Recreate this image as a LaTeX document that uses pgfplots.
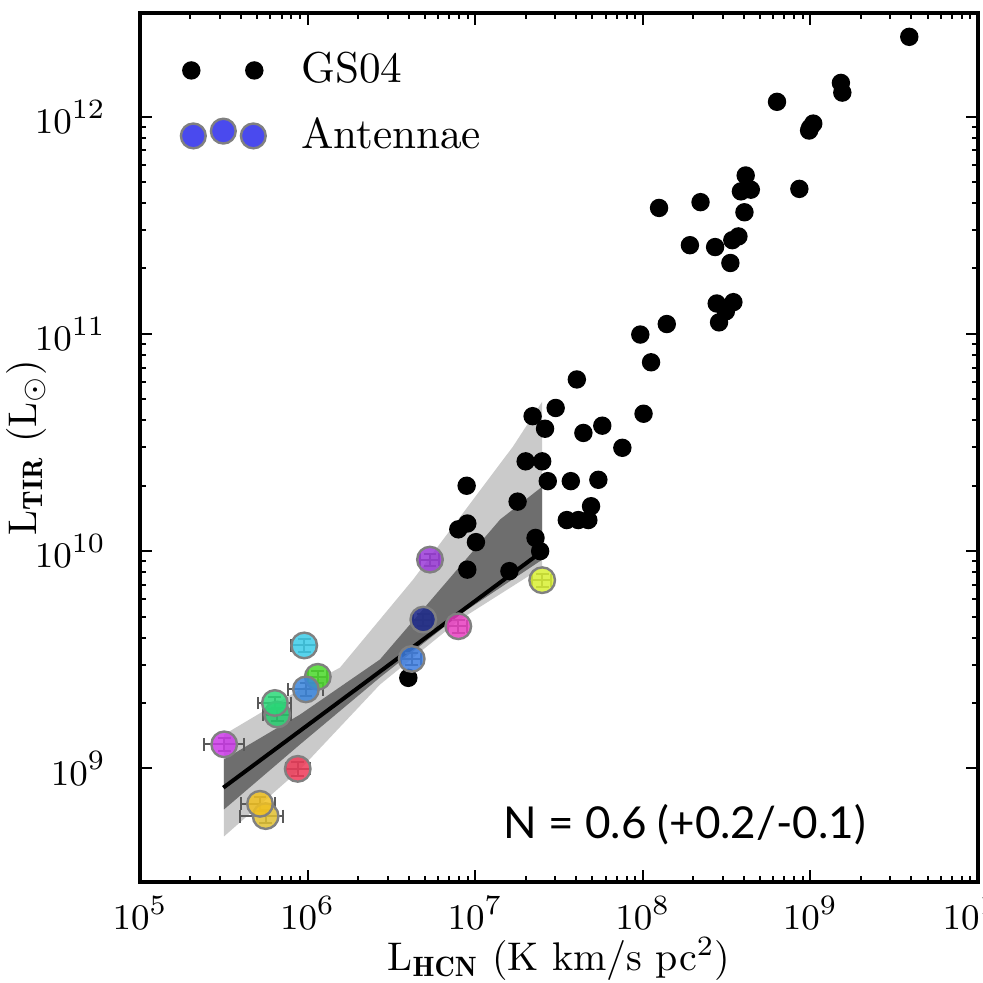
\documentclass[border=0pt]{standalone}
\usepackage{pgfplots}
\pgfplotsset{compat=1.18}
\usepackage{fontspec}
\newfontfamily\nfont{Lato}
\definecolor{cPurple}{HTML}{9A3AD8}
\definecolor{cNavy}{HTML}{1E2A8C}
\definecolor{cMag}{HTML}{E83EC0}
\definecolor{cBlue}{HTML}{3D7DE0}
\definecolor{cYG}{HTML}{D8F032}
\definecolor{cCyan}{HTML}{3CCBE8}
\definecolor{cGreen}{HTML}{4AD82A}
\definecolor{cBlueB}{HTML}{3A85DC}
\definecolor{cGreenB}{HTML}{2AD878}
\definecolor{cGreenC}{HTML}{22C86A}
\definecolor{cMagB}{HTML}{CC3AE8}
\definecolor{cRed}{HTML}{EE3A58}
\definecolor{cYel}{HTML}{F0C020}
\definecolor{cYelB}{HTML}{E0C030}
\definecolor{legblue}{HTML}{4A4AEE}
\definecolor{bandlight}{HTML}{CACACA}
\definecolor{banddark}{HTML}{6E6E6E}
\pgfplotsset{
  ant/.style={forget plot, only marks, mark=*, mark size=3.2pt,
    mark options={fill=#1, draw=gray, line width=0.6pt, fill opacity=0.85},
    error bars/x dir=both, error bars/x explicit, error bars/y dir=both, error bars/y explicit,
    error bars/error bar style={color=black!65, line width=0.5pt},
    error bars/error mark options={rotate=90, mark size=1.6pt, color=black!65, line width=0.5pt}},
}
\begin{document}
\begin{tikzpicture}
\begin{axis}[
  scale only axis, width=209.5pt, height=217.25pt,
  xmode=log, ymode=log,
  xmin=1e5, xmax=1e10, ymin=3e8, ymax=3e12,
  xtick={1e5,1e6,1e7,1e8,1e9,1e10}, ytick={1e9,1e10,1e11,1e12},
  axis line style={line width=0.8pt},
  major tick length=3pt, minor tick length=1.5pt,
  every tick/.style={black, line width=0.5pt},
  tick label style={font=\fontsize{9.5}{11}\selectfont},
  yticklabel style={xshift=-5pt},
  label style={font=\fontsize{9.5}{11}\selectfont},
  xlabel={$\mathrm{L}_{\mathbf{HCN}}$ (K km/s pc$^2$)},
  ylabel={$\mathrm{L}_{\mathbf{TIR}}$ ($\mathrm{L}_{\odot}$)},
  every axis x label/.style={at={([yshift=-19.25pt]rel axis cs:0.5,0)}, anchor=center},
  every axis y label/.style={at={([xshift=-28.5pt]rel axis cs:0,0.5)}, rotate=90, anchor=center},
  legend style={at={(rel axis cs:0.045,0.965)}, anchor=north west, draw=none, fill=none,
    font=\fontsize{10.8}{12}\selectfont, row sep=3.2pt, inner sep=0pt},
  legend cell align=left,
]
\coordinate (ll) at (rel axis cs:0,0);
\coordinate (ur) at (rel axis cs:1,1);
% legend entries
\addlegendimage{legend image code/.code={
  \fill[black] (0pt,0pt) circle[radius=2.1pt];
  \fill[black] (15.75pt,0pt) circle[radius=2.1pt];
  \path (-3pt,0pt) (25.25pt,0pt);}}
\addlegendentry{GS04}
\addlegendimage{legend image code/.code={
  \filldraw[fill=legblue, draw=gray, line width=0.6pt] (0.5pt,0pt) circle[radius=3.1pt];
  \filldraw[fill=legblue, draw=gray, line width=0.6pt] (8pt,1.2pt) circle[radius=3.1pt];
  \filldraw[fill=legblue, draw=gray, line width=0.6pt] (15.5pt,0pt) circle[radius=3.1pt];
  \path (-3pt,0pt) (25.25pt,0pt);}}
\addlegendentry{Antennae}
% bands
\addplot[fill=bandlight, draw=none, forget plot] coordinates {
 (3.17e5,1.43e9) (9.02e5,2.31e9) (1.56e6,2.91e9) (4.26e6,7.40e9) (1.68e7,3.03e10) (2.51e7,4.88e10)
 (2.51e7,8.41e9) (8.11e6,4.84e9) (2.70e6,2.43e9) (9.02e5,9.89e8) (3.17e5,4.86e8)} -- cycle;
\addplot[fill=banddark, draw=none, forget plot] coordinates {
 (3.17e5,1.10e9) (9.02e5,1.77e9) (2.70e6,3.17e9) (1.41e7,1.40e10) (2.51e7,1.98e10)
 (2.51e7,9.14e9) (8.11e6,5.11e9) (2.70e6,2.62e9) (9.02e5,1.29e9) (3.17e5,6.47e8)} -- cycle;
\addplot[black, line width=1pt, forget plot] coordinates {(3.14e5,8.15e8) (2.51e7,9.98e9)};
% GS04
\addplot[only marks, mark=*, mark size=2.1pt, black, forget plot] coordinates {
 (3.89e9,2.33e12) (1.52e9,1.43e12) (1.55e9,1.29e12) (6.32e8,1.17e12)
 (1.04e9,9.29e11) (9.95e8,8.87e11) (9.82e8,8.63e11)
 (4.11e8,5.36e11) (3.85e8,4.53e11) (4.41e8,4.61e11) (8.59e8,4.65e11)
 (1.25e8,3.80e11) (2.21e8,4.04e11) (4.04e8,3.63e11)
 (1.91e8,2.56e11) (2.70e8,2.51e11) (3.42e8,2.70e11) (3.72e8,2.81e11) (3.33e8,2.12e11)
 (2.76e8,1.38e11) (3.47e8,1.40e11) (3.13e8,1.27e11) (2.85e8,1.13e11)
 (1.39e8,1.11e11) (9.66e7,9.93e10) (1.12e8,7.40e10) (4.04e7,6.17e10)
 (1.01e8,4.29e10) (3.02e7,4.56e10) (2.20e7,4.18e10) (2.61e7,3.66e10)
 (5.73e7,3.78e10) (4.42e7,3.50e10) (7.55e7,2.99e10)
 (2.00e7,2.59e10) (2.51e7,2.59e10) (2.71e7,2.10e10) (3.72e7,2.10e10) (5.43e7,2.13e10)
 (8.89e6,2.00e10) (1.79e7,1.69e10) (4.91e7,1.61e10)
 (3.52e7,1.39e10) (4.12e7,1.39e10) (4.73e7,1.39e10)
 (8.97e6,1.34e10) (7.93e6,1.26e10) (1.01e7,1.10e10) (2.29e7,1.15e10) (2.44e7,1.00e10)
 (8.97e6,8.22e9) (1.60e7,8.09e9) (3.99e6,2.61e9)};
% Antennae
\addplot[ant=cPurple] coordinates {(5.37e6,9.14e9) +- (0.7e6,0.6e9)};
\addplot[ant=cNavy] coordinates {(4.90e6,4.84e9) +- (0.64e6,0.32e9)};
\addplot[ant=cMag] coordinates {(7.93e6,4.51e9) +- (1.03e6,0.3e9)};
\addplot[ant=cBlue] coordinates {(4.18e6,3.19e9) +- (0.55e6,0.21e9)};
\addplot[ant=cYG] coordinates {(2.51e7,7.35e9) +- (3.3e6,0.48e9)};
\addplot[ant=cCyan] coordinates {(9.55e5,3.68e9) +- (1.6e5,0.24e9)};
\addplot[ant=cGreen] coordinates {(1.15e6,2.64e9) +- (1.5e5,0.17e9)};
\addplot[ant=cBlueB] coordinates {(9.77e5,2.31e9) += (2.6e5,0.15e9) -= (2.1e5,0.15e9)};
\addplot[ant=cGreenC] coordinates {(6.59e5,1.77e9) += (1.4e5,0.12e9) -= (1.2e5,0.12e9)};
\addplot[ant=cGreenB] coordinates {(6.38e5,2.00e9) += (1.6e5,0.13e9) -= (1.3e5,0.13e9)};
\addplot[ant=cMagB] coordinates {(3.18e5,1.29e9) += (1.01e5,0.09e9) -= (0.77e5,0.09e9)};
\addplot[ant=cRed] coordinates {(8.73e5,9.95e8) += (1.57e5,0.07e9) -= (1.34e5,0.07e9)};
\addplot[ant=cYelB] coordinates {(5.62e5,6.03e8) += (1.53e5,0.04e9) -= (1.69e5,0.04e9)};
\addplot[ant=cYel] coordinates {(5.20e5,6.87e8) += (1.2e5,0.05e9) -= (1.2e5,0.05e9)};
\node[font=\nfont\fontsize{11}{13}\selectfont, anchor=center] at (rel axis cs:0.650,0.066) {N = 0.6 (+0.2/-0.1)};
\end{axis}
\pgfresetboundingbox
\path ([shift={(-35pt,-25.25pt)}]ll) rectangle ([shift={(1.25pt,3.25pt)}]ur);
\end{tikzpicture}
\end{document}
